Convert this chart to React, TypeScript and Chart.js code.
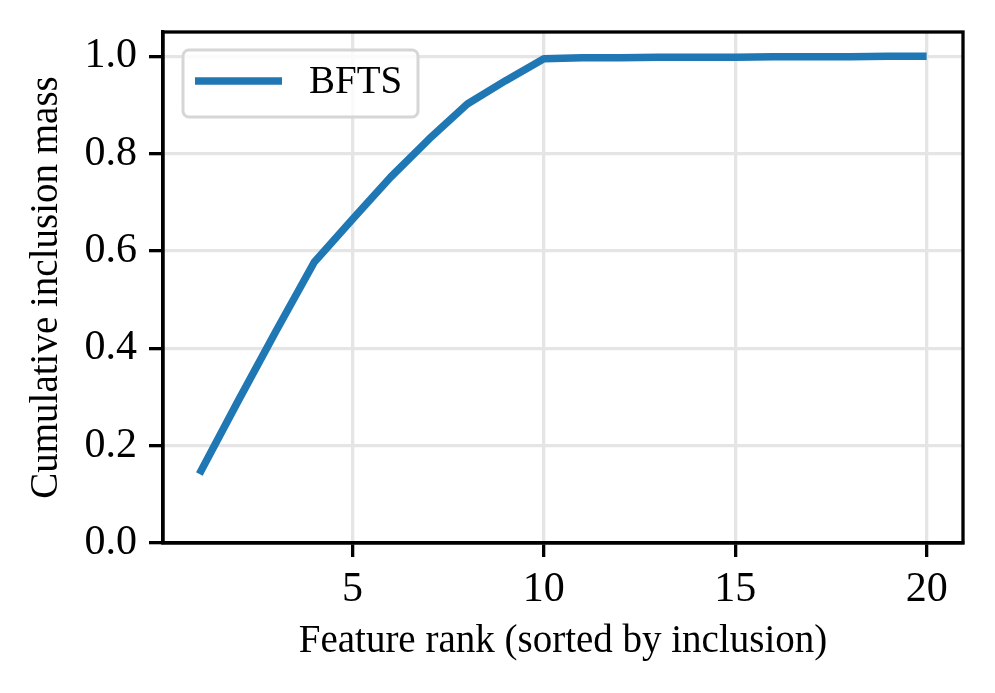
import React, { useEffect, useRef } from "react";
import { Chart, registerables } from "chart.js";

Chart.register(...registerables);

const ranks = [1, 2, 3, 4, 5, 6, 7, 8, 9, 10, 11, 12, 13, 14, 15, 16, 17, 18, 19, 20];
const mass = [0.142, 0.29, 0.435, 0.577, 0.665, 0.752, 0.83, 0.902, 0.95, 0.995, 0.997, 0.997, 0.998, 0.998, 0.998, 0.999, 0.999, 0.999, 1.0, 1.0];
const xTicks = [5, 10, 15, 20];
const yTicks = [0, 0.2, 0.4, 0.6, 0.8, 1.0];
const seriesLabel = "BFTS";
const xTitle = "Feature rank (sorted by inclusion)";
const yTitle = "Cumulative inclusion mass";

const FONT = "'Liberation Serif', 'Times New Roman', serif";
const BLUE = "#1f77b4";
const TICK_SIZE = 42;
const LABEL_SIZE = 39;

const framePlugin = {
  id: "frame",
  afterDatasetsDraw(chart: any) {
    const { ctx, chartArea } = chart;
    ctx.save();
    ctx.strokeStyle = "#000";
    ctx.lineWidth = 3.3;
    ctx.strokeRect(chartArea.left, chartArea.top, chartArea.right - chartArea.left, chartArea.bottom - chartArea.top);
    ctx.restore();
  },
  afterDraw(chart: any) {
    const { ctx, chartArea } = chart;
    const ds = chart.data.datasets[0];
    const bx = chartArea.left + 20;
    const by = chartArea.top + 18;
    const bw = 235;
    const bh = 67;
    ctx.save();
    ctx.beginPath();
    const r = 6;
    ctx.moveTo(bx + r, by);
    ctx.arcTo(bx + bw, by, bx + bw, by + bh, r);
    ctx.arcTo(bx + bw, by + bh, bx, by + bh, r);
    ctx.arcTo(bx, by + bh, bx, by, r);
    ctx.arcTo(bx, by, bx + bw, by, r);
    ctx.closePath();
    ctx.fillStyle = "rgba(255,255,255,0.8)";
    ctx.fill();
    ctx.strokeStyle = "#d6d6d6";
    ctx.lineWidth = 3;
    ctx.stroke();
    const ly = by + 31;
    ctx.beginPath();
    ctx.moveTo(bx + 12, ly);
    ctx.lineTo(bx + 99, ly);
    ctx.strokeStyle = ds.borderColor;
    ctx.lineWidth = ds.borderWidth;
    ctx.lineCap = "butt";
    ctx.stroke();
    ctx.fillStyle = "#000";
    ctx.font = `${LABEL_SIZE}px ${FONT}`;
    ctx.textBaseline = "middle";
    ctx.textAlign = "left";
    ctx.fillText(ds.label, bx + 126, ly + 2);
    ctx.restore();
  },
};

export default function App() {
  const ref = useRef<HTMLCanvasElement>(null);
  useEffect(() => {
    if (!ref.current) return;
    const gridOpts = {
      color: "#e5e5e5",
      lineWidth: 3.3,
      tickColor: "#000",
      tickWidth: 3.3,
      tickLength: 14,
    };
    const chart = new Chart(ref.current, {
      type: "line",
      data: {
        datasets: [
          {
            label: seriesLabel,
            data: ranks.map((r, i) => ({ x: r, y: mass[i] })),
            borderColor: BLUE,
            backgroundColor: BLUE,
            borderWidth: 7.5,
            pointRadius: 0,
            tension: 0,
            borderCapStyle: "butt",
            borderJoinStyle: "round",
          },
        ],
      },
      options: {
        animation: false,
        responsive: false,
        devicePixelRatio: 1,
        layout: { padding: { left: 0, top: 32, right: 32, bottom: 0 } },
        plugins: { legend: { display: false }, tooltip: { enabled: false } },
        scales: {
          x: {
            type: "linear",
            min: 0.05,
            max: 20.95,
            afterFit: (s: any) => {
              s.height = 150;
              s.paddingLeft = 0;
              s.paddingRight = 0;
            },
            afterBuildTicks: (s: any) => {
              s.ticks = xTicks.map((v) => ({ value: v }));
            },
            grid: gridOpts,
            border: { display: true, color: "#000", width: 3.3 },
            ticks: {
              color: "#000",
              font: { family: FONT, size: TICK_SIZE },
              padding: 8,
              maxRotation: 0,
              callback: (v: any) => String(v),
            },
            title: {
              display: true,
              text: xTitle,
              color: "#000",
              font: { family: FONT, size: LABEL_SIZE },
              padding: { top: 0, bottom: 28 },
            },
          },
          y: {
            type: "linear",
            min: 0,
            max: 1.05,
            afterFit: (s: any) => {
              s.width = 163;
              s.paddingTop = 0;
              s.paddingBottom = 0;
            },
            afterBuildTicks: (s: any) => {
              s.ticks = yTicks.map((v) => ({ value: v }));
            },
            grid: gridOpts,
            border: { display: true, color: "#000", width: 3.3 },
            ticks: {
              color: "#000",
              font: { family: FONT, size: TICK_SIZE },
              padding: 12,
              callback: (v: any) => Number(v).toFixed(1),
            },
            title: {
              display: true,
              text: yTitle,
              color: "#000",
              font: { family: FONT, size: LABEL_SIZE },
              padding: { top: 23, bottom: 0 },
            },
          },
        },
      },
      plugins: [framePlugin],
    });
    return () => chart.destroy();
  }, []);
  return (
    <div style={{ position: "absolute", left: 0, top: 0, width: 995, height: 693, background: "#fff" }}>
      <canvas ref={ref} width={995} height={693} style={{ display: "block" }} />
    </div>
  );
}
